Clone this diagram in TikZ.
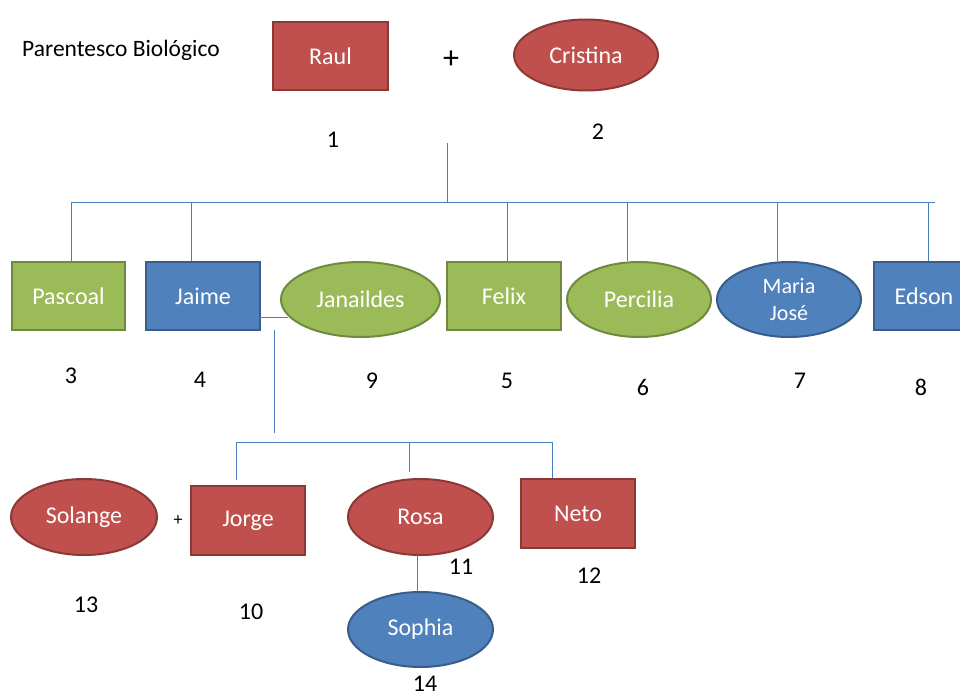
\documentclass[tikz,border=0pt]{standalone}
\usepackage{fontspec}
\setmainfont{Carlito}
\usetikzlibrary{shapes.geometric}
\definecolor{redF}{HTML}{C0504D}
\definecolor{redD}{HTML}{8C3836}
\definecolor{grnF}{HTML}{9BBB59}
\definecolor{grnD}{HTML}{71893F}
\definecolor{bluF}{HTML}{4F81BD}
\definecolor{bluD}{HTML}{385D8A}
\definecolor{lnC}{HTML}{4A7EBB}
\begin{document}
\begin{tikzpicture}[x=1pt,y=-1pt,
  person/.style={text=white, font=\fontsize{24}{27}\selectfont, line width=2pt, inner sep=0pt, align=center},
  sq/.style={person, rectangle, minimum width=114pt, minimum height=68pt},
  ov/.style={person, ellipse, minimum width=145pt, minimum height=75pt},
  redc/.style={fill=redF, draw=redD},
  grnc/.style={fill=grnF, draw=grnD},
  bluc/.style={fill=bluF, draw=bluD},
  lnk/.style={draw=lnC, line width=1pt},
  num/.style={font=\fontsize{24}{27}\selectfont, inner sep=0pt},
  plus/.style={font=\fontsize{32}{34}\selectfont, inner sep=0pt}]
\useasboundingbox (0,0) rectangle (960,698);
\clip (0,0) rectangle (960,698);
\fill[white] (0,0) rectangle (960,698);

% title
\node[font=\fontsize{23.5}{26}\selectfont, anchor=west, inner sep=0pt] (title) at (22,50) {Parentesco Biológico};

% parents
\node[sq, redc, minimum width=115pt] (raul) at (330.5,56) {Raul};
\node[plus] (plus1) at (451,60) {+};
\node[ov, redc, minimum width=144pt, minimum height=71pt] (cristina) at (586,55) {Cristina};
\node[num] (n1) at (333,140) {1};
\node[num] (n2) at (598,132) {2};

% children row
\node[sq, grnc, minimum width=113pt] (pascoal) at (68.5,296) {Pascoal};
\node[sq, bluc] (jaime) at (203,296) {Jaime};
\node[ov, grnc, minimum width=159pt] (janaildes) at (360.5,299.5) {Janaildes};
\node[sq, grnc] (felix) at (504,296) {Felix};
\node[ov, grnc, minimum width=144pt] (percilia) at (639,299.5) {Percilia};
\node[ov, bluc, minimum width=144pt, font=\fontsize{22}{27}\selectfont] (maria) at (789,299.5) {Maria\\José};
\node[sq, bluc, minimum width=100pt] (edson) at (924,296) {Edson};

\node[num] (n3) at (71,376) {3};
\node[num] (n4) at (200,380) {4};
\node[num] (n9) at (372,381) {9};
\node[num] (n5) at (507,381) {5};
\node[num] (n6) at (643,387) {6};
\node[num] (n7) at (800,381) {7};
\node[num] (n8) at (921,387) {8};

% family bar
\coordinate (stem) at (447,143);
\coordinate (barL) at (71,202);
\coordinate (barR) at (935,202);
\coordinate (dJaime) at (191,202);
\coordinate (dFelix) at (507,202);
\coordinate (dPerc) at (627,202);
\coordinate (dMaria) at (777,202);
\coordinate (dEdson) at (928,202);
\draw[lnk] (stem) -- (stem |- barL);
\draw[lnk] (barL) -- (barR);
\draw[lnk] (barL) -- (barL |- pascoal.north);
\draw[lnk] (dJaime) -- (dJaime |- jaime.north);
\draw[lnk] (dFelix) -- (dFelix |- felix.north);
\draw[lnk] (dPerc) -- (dPerc |- percilia.north);
\draw[lnk] (dMaria) -- (dMaria |- maria.north);
\draw[lnk] (dEdson) -- (dEdson |- edson.north);

% Jaime + Janaildes
\coordinate (c1) at (250,317);
\coordinate (c2) at (288,317);
\draw[lnk] (c1) -- (c2);
\coordinate (stem2) at (274,330);
\coordinate (stem2b) at (274,433);
\draw[lnk] (stem2) -- (stem2b);

% grandchildren
\node[ov, redc, minimum width=146pt, minimum height=76pt] (solange) at (84,517) {Solange};
\node[font=\fontsize{18}{20}\selectfont, inner sep=0pt] (plus2) at (178,521) {+};
\node[sq, redc, minimum width=114pt, minimum height=69pt] (jorge) at (248,520.5) {Jorge};
\node[ov, redc, minimum width=145pt, minimum height=76pt] (rosa) at (420.5,517) {Rosa};
\node[sq, redc, minimum width=114pt, minimum height=69pt] (neto) at (578,513.5) {Neto};
\node[ov, bluc, minimum width=145pt, minimum height=75pt] (sophia) at (420.5,629.5) {Sophia};

\node[num] (n13) at (86,605) {13};
\node[num] (n10) at (251,612) {10};
\node[num] (n11) at (461,567) {11};
\node[num] (n12) at (589,576) {12};
\node[num] (n14) at (425,684) {14};

\coordinate (bar2L) at (236,442);
\coordinate (bar2R) at (552,442);
\coordinate (dRosa) at (409,442);
\draw[lnk] (bar2L) -- (bar2R);
\draw[lnk] (bar2L) -- (236,480);
\draw[lnk] (dRosa) -- (409,472);
\draw[lnk] (bar2R) -- (552,478);

\coordinate (rs) at (417,555);
\draw[lnk] (rs) -- (rs |- sophia.north);
\end{tikzpicture}
\end{document}
